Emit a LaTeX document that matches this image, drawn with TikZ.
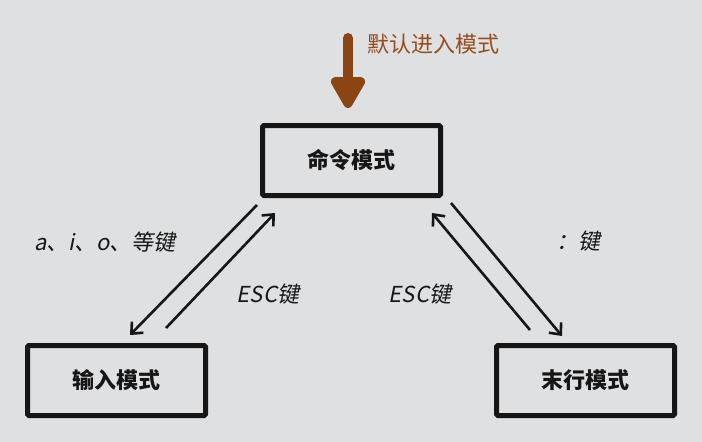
\documentclass[tikz,border=0pt]{standalone}
\usepackage{fontspec}
\usetikzlibrary{arrows.meta,calc}
\newfontfamily\cjk{Noto Sans CJK SC}
\newfontfamily\cjkit{Noto Sans CJK SC}[FakeSlant=0.2]
\definecolor{bgc}{RGB}{223,224,226}
\definecolor{brownc}{RGB}{139,69,19}
\definecolor{browntext}{RGB}{150,76,28}
\definecolor{boxc}{RGB}{22,22,22}
\tikzset{
  modebox/.style={draw=boxc, line width=5pt, rounded corners=1.5pt, minimum width=178pt, minimum height=70pt, inner sep=0pt, font=\cjk\bfseries\fontsize{22}{22}\selectfont, text=boxc},
  conn/.style={draw=boxc, line width=2.6pt, -{Straight Barb[length=9pt,width=16pt,line width=2.6pt]}},
  keylabel/.style={inner sep=0pt, font=\cjkit\fontsize{22}{22}\selectfont, text=boxc},
  entry/.style={draw=brownc, line width=10pt, line cap=round, -{Triangle[length=36pt,width=38pt,round]}},
}
\begin{document}
\begin{tikzpicture}[x=1pt,y=-1pt]
  \fill[bgc] (0,0) rectangle (702,442);
  \useasboundingbox (0,0) rectangle (702,442);
  \node[modebox] (cmd) at (351.5,160.5) {命令模式};
  \node[modebox] (ins) at (116.5,380.5) {输入模式};
  \node[modebox] (end) at (585.5,380.5) {末行模式};
  \coordinate (src) at (348,38);
  \draw[entry] (src) -- ($(cmd.north)+(-3.5,-15)$);
  \node[anchor=west, inner sep=0pt, text=browntext, font=\cjk\fontsize{22}{22}\selectfont] (deflabel) at (367,44) {默认进入模式};
  \draw[conn] ($(cmd.south west)+(-3,7)$) -- ($(ins.north)+(13.5,-8)$);
  \draw[conn] ($(ins.north)+(49.5,-15)$) -- ($(cmd.south west)+(15,15)$);
  \draw[conn] ($(end.north)+(-55.5,-13)$) -- ($(cmd.south east)+(-11,15)$);
  \draw[conn] ($(cmd.south east)+(8,5)$) -- ($(end.north)+(-23.5,-7)$);
  \node[keylabel] (lab1) at (105,242) {a、i、o、等键};
  \node[keylabel] (lab2) at (268,294) {ESC键};
  \node[keylabel] (lab3) at (420,294) {ESC键};
  \node[keylabel, anchor=east] (lab4) at (601,241) {：键};
\end{tikzpicture}
\end{document}
